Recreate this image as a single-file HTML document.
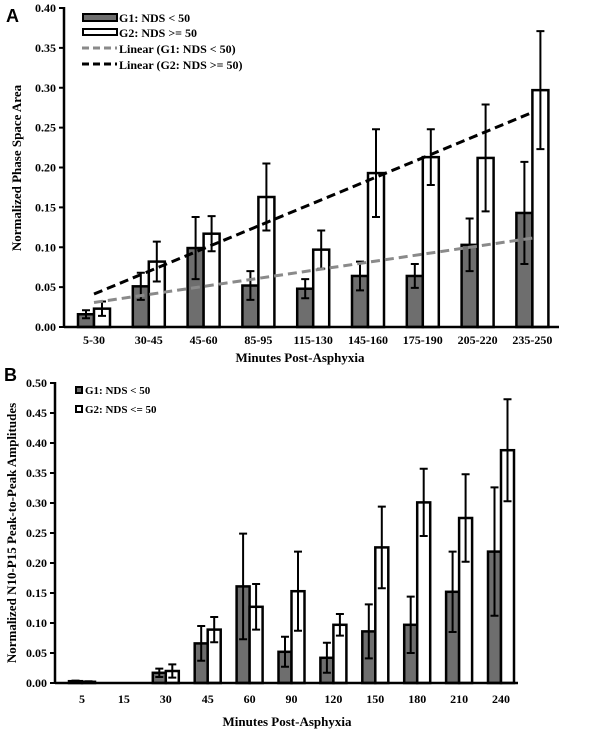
<!DOCTYPE html>
<html><head><meta charset="utf-8"><style>
html,body{margin:0;padding:0;background:#fff;}
svg{display:block;font-family:"Liberation Serif",serif;font-weight:bold;}
</style></head><body>
<svg id="c" width="604" height="737" viewBox="0 0 604 737" xmlns="http://www.w3.org/2000/svg"></svg>
<script>
const catsA=["5-30","30-45","45-60","85-95","115-130","145-160","175-190","205-220","235-250"];
const g1A=[0.016,0.051,0.099,0.052,0.048,0.064,0.064,0.103,0.143];
const g1AErr=[0.005,0.017,0.039,0.018,0.012,0.018,0.015,0.033,0.064];
const g2A=[0.023,0.082,0.117,0.163,0.097,0.193,0.213,0.212,0.297];
const g2AErr=[0.009,0.025,0.022,0.042,0.024,0.055,0.035,0.067,0.074];
const ticksA=["0.00","0.05","0.10","0.15","0.20","0.25","0.30","0.35","0.40"];
const catsB=["5","15","30","45","60","90","120","150","180","210","240"];
const g1B=[0.003,0,0.017,0.066,0.161,0.052,0.042,0.086,0.097,0.152,0.219];
const g1BErr=[0.001,0,0.007,0.029,0.088,0.025,0.025,0.045,0.047,0.067,0.107];
const g2B=[0.002,0,0.020,0.089,0.127,0.153,0.097,0.226,0.301,0.275,0.388];
const g2BErr=[0.001,0,0.011,0.021,0.038,0.066,0.018,0.068,0.056,0.073,0.085];
const ticksB=["0.00","0.05","0.10","0.15","0.20","0.25","0.30","0.35","0.40","0.45","0.50"];

const svg=document.getElementById('c');
const NS="http://www.w3.org/2000/svg";
function mk(tag,attrs,parent){const e=document.createElementNS(NS,tag);for(const k in attrs)e.setAttribute(k,attrs[k]);(parent||svg).appendChild(e);return e;}
function txt(s,attrs,parent){const e=mk('text',attrs,parent);e.textContent=s;return e;}
function regress(v){const n=v.length;let mx=(n+1)/2,my=v.reduce((a,b)=>a+b,0)/n,num=0,den=0;v.forEach((y,i)=>{num+=(i+1-mx)*(y-my);den+=(i+1-mx)**2;});const b=num/den;return [my+b*(1-mx),my+b*(n-mx)];}

function chart(o){
  const g=mk('g',{});
  
  
  const y=v=>o.y0-(v/o.ymax)*(o.y0-o.ytop);
  const xc=i=>o.x0c+i*o.step;
  o.ticks.forEach(t=>{const v=parseFloat(t);const yy=y(v);
    const tl=mk('line',{x1:o.ax-5,x2:o.ax,y1:yy,y2:yy,stroke:'#000','stroke-width':2},g);
    
    const lb=txt(t,{x:o.ax-8,y:yy+4,'text-anchor':'end','font-size':12},g);
    });
  const bars=(vals,errs,off,fill,nm)=>{vals.forEach((v,i)=>{const x=xc(i)+off;
    if(v>0){const r=mk('rect',{x:x,y:y(v),width:o.bw,height:o.y0-y(v),fill:fill,stroke:'#000','stroke-width':2.5},g);
      }
    const e=errs[i];if(e>0){const cx=x+o.bw/2;
      const p=mk('path',{d:`M${cx},${y(v+e)}V${y(v-e)}M${cx-4},${y(v+e)}h8M${cx-4},${y(v-e)}h8`,stroke:'#000','stroke-width':2,fill:'none'},g);
      }});};
  bars(o.g1,o.g1e,-o.bw,'#6e6e6e','g1');
  bars(o.g2,o.g2e,0,'#fff','g2');
  if(o.trend){[[o.g1,'#8a8a8a','g1-trendline'],[o.g2,'#000','g2-trendline']].forEach(([v,c,nm])=>{const [a,b]=regress(v);
    const l=mk('line',{x1:xc(0),y1:y(a),x2:xc(v.length-1),y2:y(b),stroke:c,'stroke-width':3,'stroke-dasharray':'9,5'},g);
    });}
  const ya=mk('line',{x1:o.ax,x2:o.ax,y1:o.ytop-1,y2:o.y0,stroke:'#000','stroke-width':2.5},g);
  
  const xa=mk('line',{x1:o.ax,x2:o.xend,y1:o.y0,y2:o.y0,stroke:'#000','stroke-width':2.5},g);
  
  o.cats.forEach((c,i)=>{const lb=txt(c,{x:xc(i),y:o.y0+o.lblOff,'text-anchor':'middle','font-size':12},g);
    });
  const xt=txt('Minutes Post-Asphyxia',{x:o.xtx,y:o.xty,'text-anchor':'middle','font-size':13},g);
  
  const yt=txt(o.ytitle,{x:0,y:0,'text-anchor':'middle','font-size':13,transform:`translate(${o.ytx},${o.yty}) rotate(-90)`},g);
  
  const pl=mk('text',{x:o.plx,y:o.ply,'font-size':18,style:'font-family:"Liberation Sans",sans-serif;font-weight:bold'},g);pl.textContent=o.letter;
  
  return g;
}
chart({name:'chart-a',cats:catsA,g1:g1A,g1e:g1AErr,g2:g2A,g2e:g2AErr,ticks:ticksA,ymax:0.40,y0:327,ytop:8,ax:64,xend:559,x0c:94,step:54.8,bw:16,trend:true,lblOff:17,xtx:300,xty:362,ytitle:'Normalized Phase Space Area',ytx:21,yty:168,letter:'A',plx:6,ply:22});
chart({name:'chart-b',cats:catsB,g1:g1B,g1e:g1BErr,g2:g2B,g2e:g2BErr,ticks:ticksB,ymax:0.50,y0:683,ytop:383,ax:55,xend:518,x0c:82,step:41.9,bw:13,trend:false,lblOff:20,xtx:287,xty:726,ytitle:'Normalized N10-P15 Peak-to-Peak Amplitudes',ytx:16,yty:533,letter:'B',plx:4,ply:381});

const la=mk('g',{});

const r1=mk('rect',{x:83,y:14,width:34,height:7,fill:'#6e6e6e',stroke:'#000','stroke-width':2},la);

const r2=mk('rect',{x:83,y:29,width:34,height:6,fill:'#fff',stroke:'#000','stroke-width':2},la);

const d1=mk('line',{x1:82,x2:117,y1:48,y2:48,stroke:'#8a8a8a','stroke-width':3,'stroke-dasharray':'7,4'},la);

const d2=mk('line',{x1:82,x2:117,y1:64,y2:64,stroke:'#000','stroke-width':3,'stroke-dasharray':'7,4'},la);

[["G1: NDS < 50",22],["G2: NDS >= 50",37],["Linear (G1: NDS < 50)",53],["Linear (G2: NDS >= 50)",69]].forEach(([s,yy])=>{const t=txt(s,{x:119,y:yy,'font-size':12},la);
  });
const lb=mk('g',{});

const s1=mk('rect',{x:76,y:387,width:6,height:6,fill:'#6e6e6e',stroke:'#000','stroke-width':2},lb);

const s2=mk('rect',{x:76,y:406,width:6,height:6,fill:'#fff',stroke:'#000','stroke-width':2},lb);

[["G1: NDS < 50",394],["G2: NDS <= 50",413]].forEach(([s,yy])=>{const t=txt(s,{x:85,y:yy,'font-size':11},lb);
  });
</script>
</body></html>
